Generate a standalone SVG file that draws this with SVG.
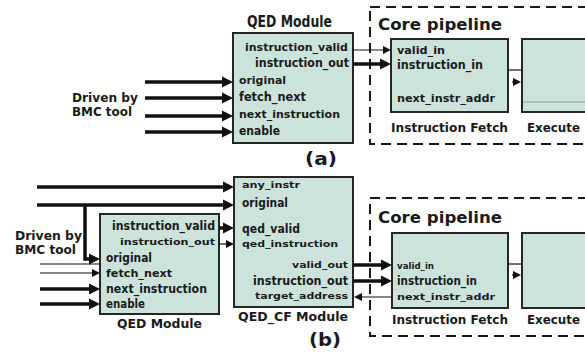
<svg xmlns="http://www.w3.org/2000/svg" xmlns:xlink="http://www.w3.org/1999/xlink" width="585" height="356" viewBox="0 0 585 356">
<style>
text{font-family:"DejaVu Sans","Liberation Sans",sans-serif;font-weight:bold;fill:#1a1a1a}
.box{fill:#cce3dc;stroke:#262626;stroke-width:2}
.dash{fill:none;stroke:#1a1a1a;stroke-width:2;stroke-dasharray:10 6}
.w1{stroke:#111;stroke-width:1.2;fill:none}
.w3{stroke:#111;stroke-width:3.5;fill:none}
.head{fill:#111}
.s9{font-size:9px}
.s10{font-size:10px}
.s12{font-size:12px}
.s13{font-size:13px}
.s15{font-size:15px}
.s18{font-size:18px}
</style>
<defs>
<path id="hb" class="head" d="M-11,-5.5 L0,0 L-11,5.5 Z"/>
<path id="hs" class="head" d="M-8,-4 L0,0 L-8,4 Z"/>
</defs>
<rect width="585" height="356" fill="#fff"/>

<!-- (a) -->
<g id="a-driven">
<text class="s12" x="72" y="102" textLength="66" lengthAdjust="spacingAndGlyphs">Driven by</text>
<text class="s12" x="72" y="116" textLength="60" lengthAdjust="spacingAndGlyphs">BMC tool</text>
</g>
<g id="a-qed">
<text class="s15" x="247" y="27" textLength="85" lengthAdjust="spacingAndGlyphs">QED Module</text>
<rect class="box" x="233" y="33" width="120" height="110"/>
<text class="s10" x="245" y="51" textLength="103" lengthAdjust="spacingAndGlyphs">instruction_valid</text>
<text class="s13" x="255" y="67" textLength="94" lengthAdjust="spacingAndGlyphs">instruction_out</text>
<text class="s10" x="239" y="84" textLength="47" lengthAdjust="spacingAndGlyphs">original</text>
<text class="s12" x="239" y="101" textLength="67" lengthAdjust="spacingAndGlyphs">fetch_next</text>
<text class="s10" x="239" y="118" textLength="101" lengthAdjust="spacingAndGlyphs">next_instruction</text>
<text class="s12" x="239" y="135" textLength="41" lengthAdjust="spacingAndGlyphs">enable</text>
</g>
<g id="a-core">
<rect class="dash" x="370" y="7" width="230" height="137"/>
<text class="s15" x="378" y="30" textLength="124" lengthAdjust="spacingAndGlyphs">Core pipeline</text>
</g>
<g id="a-fetch">
<rect class="box" x="391" y="39" width="117" height="73"/>
<text class="s10" x="397" y="54" textLength="48" lengthAdjust="spacingAndGlyphs">valid_in</text>
<text class="s12" x="397" y="69" textLength="86" lengthAdjust="spacingAndGlyphs">instruction_in</text>
<text class="s10" x="397" y="102" textLength="98" lengthAdjust="spacingAndGlyphs">next_instr_addr</text>
<text class="s12" x="391" y="132" textLength="117" lengthAdjust="spacingAndGlyphs">Instruction Fetch</text>
</g>
<g id="a-exec">
<rect class="box" x="522" y="39" width="80" height="73"/>
<line x1="523" y1="102" x2="585" y2="102" stroke="#999" stroke-width="1"/>
<text class="s12" x="527" y="132" textLength="53" lengthAdjust="spacingAndGlyphs">Execute</text>
</g>
<text id="a-label" class="s18" x="305" y="165" textLength="32" lengthAdjust="spacingAndGlyphs">(a)</text>

<!-- (b) -->
<g id="b-driven">
<text class="s12" x="15" y="240" textLength="67" lengthAdjust="spacingAndGlyphs">Driven by</text>
<text class="s12" x="15" y="254" textLength="61" lengthAdjust="spacingAndGlyphs">BMC tool</text>
</g>
<g id="b-qed">
<rect class="box" x="100" y="214" width="119" height="100"/>
<text class="s12" x="215" y="230" text-anchor="end" textLength="103" lengthAdjust="spacingAndGlyphs">instruction_valid</text>
<text class="s9" x="215" y="245" text-anchor="end" textLength="95" lengthAdjust="spacingAndGlyphs">instruction_out</text>
<text class="s12" x="106" y="262" textLength="46" lengthAdjust="spacingAndGlyphs">original</text>
<text class="s10" x="106" y="277" textLength="66" lengthAdjust="spacingAndGlyphs">fetch_next</text>
<text class="s12" x="106" y="293" textLength="101" lengthAdjust="spacingAndGlyphs">next_instruction</text>
<text class="s12" x="106" y="308" textLength="39" lengthAdjust="spacingAndGlyphs">enable</text>
<text class="s13" x="117" y="328" textLength="85" lengthAdjust="spacingAndGlyphs">QED Module</text>
</g>
<g id="b-qedcf">
<rect class="box" x="234" y="177" width="119" height="130"/>
<text class="s9" x="242" y="188" textLength="58" lengthAdjust="spacingAndGlyphs">any_instr</text>
<text class="s12" x="242" y="207" textLength="46" lengthAdjust="spacingAndGlyphs">original</text>
<text class="s12" x="242" y="233" textLength="58" lengthAdjust="spacingAndGlyphs">qed_valid</text>
<text class="s9" x="242" y="247" textLength="96" lengthAdjust="spacingAndGlyphs">qed_instruction</text>
<text class="s9" x="348" y="268" text-anchor="end" textLength="56" lengthAdjust="spacingAndGlyphs">valid_out</text>
<text class="s12" x="348" y="285" text-anchor="end" textLength="95" lengthAdjust="spacingAndGlyphs">instruction_out</text>
<text class="s9" x="348" y="299" text-anchor="end" textLength="93" lengthAdjust="spacingAndGlyphs">target_address</text>
<text class="s12" x="238" y="321" textLength="110" lengthAdjust="spacingAndGlyphs">QED_CF Module</text>
</g>
<g id="b-core">
<rect class="dash" x="370" y="198" width="230" height="138"/>
<text class="s15" x="378" y="223" textLength="124" lengthAdjust="spacingAndGlyphs">Core pipeline</text>
</g>
<g id="b-fetch">
<rect class="box" x="392" y="233" width="116" height="75"/>
<text class="s9" x="397" y="269" textLength="37" lengthAdjust="spacingAndGlyphs">valid_in</text>
<text class="s12" x="397" y="285" textLength="80" lengthAdjust="spacingAndGlyphs">instruction_in</text>
<text class="s9" x="397" y="300" textLength="98" lengthAdjust="spacingAndGlyphs">next_instr_addr</text>
<text class="s12" x="392" y="324" textLength="116" lengthAdjust="spacingAndGlyphs">Instruction Fetch</text>
</g>
<g id="b-exec">
<rect class="box" x="522" y="233" width="80" height="75"/>
<text class="s12" x="527" y="324" textLength="53" lengthAdjust="spacingAndGlyphs">Execute</text>
</g>
<text id="b-label" class="s18" x="309" y="346" textLength="32" lengthAdjust="spacingAndGlyphs">(b)</text>

<g id="connectors">
<!-- (a) inputs -->
<line class="w3" x1="145" y1="82" x2="226" y2="82"/><use xlink:href="#hb" transform="translate(233,82)"/>
<line class="w3" x1="145" y1="98" x2="226" y2="98"/><use xlink:href="#hb" transform="translate(233,98)"/>
<line class="w3" x1="145" y1="116" x2="226" y2="116" stroke-width="2.5"/><use xlink:href="#hb" transform="translate(233,116)"/>
<line class="w3" x1="145" y1="132" x2="226" y2="132"/><use xlink:href="#hb" transform="translate(233,132)"/>
<!-- (a) QED to fetch -->
<line class="w1" x1="353" y1="50" x2="386" y2="50"/><use xlink:href="#hs" transform="translate(391,50)"/>
<line class="w3" x1="353" y1="64" x2="384" y2="64"/><use xlink:href="#hb" transform="translate(391,64)"/>
<!-- (a) fetch to execute -->
<line class="w1" x1="508" y1="70" x2="522" y2="70"/>
<line class="w1" x1="512" y1="82" x2="516" y2="82"/><use xlink:href="#hs" transform="translate(521,82)"/>
<!-- (b) top inputs -->
<line class="w3" x1="37" y1="187" x2="227" y2="187" stroke-width="4"/><use xlink:href="#hb" transform="translate(234,187)"/>
<line class="w3" x1="37" y1="205" x2="227" y2="205" stroke-width="4"/><use xlink:href="#hb" transform="translate(234,205)"/>
<polyline class="w3" points="85,205 85,259 93,259" stroke-width="3"/><use xlink:href="#hb" transform="translate(100,259)"/>
<!-- (b) inputs to QED module -->
<line class="w1" x1="40" y1="264" x2="100" y2="264"/>
<line class="w1" x1="40" y1="273" x2="95" y2="273"/><use xlink:href="#hs" transform="translate(100,273)"/>
<line class="w3" x1="40" y1="289" x2="93" y2="289"/><use xlink:href="#hb" transform="translate(100,289)"/>
<line class="w3" x1="40" y1="304" x2="93" y2="304"/><use xlink:href="#hb" transform="translate(100,304)"/>
<!-- (b) QED module to QED_CF -->
<line class="w3" x1="219" y1="228" x2="227" y2="228"/><use xlink:href="#hb" transform="translate(234,228)"/>
<line class="w1" x1="219" y1="244" x2="229" y2="244"/><use xlink:href="#hs" transform="translate(234,244)"/>
<!-- (b) QED_CF to fetch -->
<line class="w3" x1="353" y1="265" x2="385" y2="265"/><use xlink:href="#hb" transform="translate(392,265)"/>
<line class="w3" x1="353" y1="281" x2="385" y2="281"/><use xlink:href="#hb" transform="translate(392,281)"/>
<line class="w1" x1="392" y1="297" x2="358" y2="297"/><use xlink:href="#hs" transform="translate(354,297) rotate(180)"/>
<!-- (b) fetch to execute -->
<line class="w1" x1="508" y1="264" x2="522" y2="264"/>
<line class="w1" x1="512" y1="275" x2="516" y2="275"/><use xlink:href="#hs" transform="translate(521,275)"/>
</g>
</svg>
